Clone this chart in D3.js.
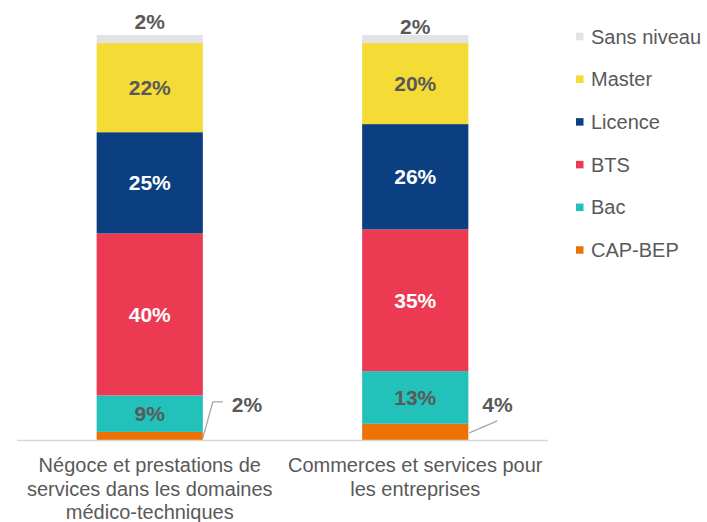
<!DOCTYPE html>
<html><head><meta charset="utf-8">
<script src="https://cdn.jsdelivr.net/npm/d3@7"></script>
<style>body{margin:0;background:#fff;}svg{display:block;font-family:"Liberation Sans",Arial,sans-serif;}</style>
</head><body><svg id="c" width="707" height="522"></svg>
<script>
const categories = [
  ["Négoce et prestations de", "services dans les domaines", "médico-techniques"],
  ["Commerces et services pour", "les entreprises"]
];
const seriesNames = ["CAP-BEP", "Bac", "BTS", "Licence", "Master", "Sans niveau"];
const seriesColors = ["#EE7203", "#22C1B9", "#EC3A52", "#0C3F81", "#F5DB35", "#E3E3E3"];
const labelColors = ["#595959", "#595959", "#FFFFFF", "#FFFFFF", "#595959", "#595959"];
const capBep = [2, 4];
const bac = [9, 13];
const bts = [40, 35];
const licence = [25, 26];
const master = [22, 20];
const sansNiveau = [2, 2];
const seriesValues = [capBep, bac, bts, licence, master, sansNiveau];

const svg = d3.select("#c");
const x = d3.scaleBand().domain(d3.range(categories.length)).range([17, 548]).paddingInner(0.6).paddingOuter(0.3);
const y = d3.scaleLinear().domain([0, 100]).range([440, 35]);

const rows = categories.map((c, i) => {
  const o = {i};
  seriesNames.forEach((s, k) => o[s] = seriesValues[k][i]);
  return o;
});
const stacked = d3.stack().keys(seriesNames)(rows);

// bars
stacked.forEach((layer, k) => {
  svg.append("g").selectAll("rect").data(layer).join("rect")
    .attr("x", d => x(d.data.i))
    .attr("width", x.bandwidth())
    .attr("y", d => y(d[1]))
    .attr("height", d => y(d[0]) - y(d[1]))
    .attr("fill", seriesColors[k]);
});

// axis line
svg.append("line").attr("x1", 17).attr("x2", 548).attr("y1", 440.5).attr("y2", 440.5)
  .attr("stroke", "#D9D9D9").attr("stroke-width", 1.5);

const labelSize = 21;
// inner labels (Bac, BTS, Licence, Master)
[1, 2, 3, 4].forEach(k => {
  stacked[k].forEach(d => {
    svg.append("text")
      .attr("x", x(d.data.i) + x.bandwidth() / 2)
      .attr("y", (y(d[0]) + y(d[1])) / 2)
      .attr("dy", "0.35em")
      .attr("text-anchor", "middle")
      .attr("font-size", labelSize).attr("font-weight", "bold")
      .attr("fill", labelColors[k])
      .text(d[1] - d[0] + "%");
  });
});
// sans niveau above
const topOffsets = [-13, -8];
stacked[5].forEach((d, i) => {
  svg.append("text")
    .attr("x", x(d.data.i) + x.bandwidth() / 2)
    .attr("y", y(d[1]) + topOffsets[i])
    .attr("dy", "0.35em")
    .attr("text-anchor", "middle")
    .attr("font-size", labelSize).attr("font-weight", "bold")
    .attr("fill", labelColors[5])
    .text(d[1] - d[0] + "%");
});
// CAP-BEP with leader lines
const leaders = [
  {pts: [[0, 2], [10, -34], [20, -34]], lx: 29, ly: -31},
  {pts: [[1, 1], [29, -11]], lx: 14, ly: -27}
];
stacked[0].forEach((d, i) => {
  const bx = x(d.data.i) + x.bandwidth();
  const by = (y(d[0]) + y(d[1])) / 2;
  const L = leaders[i];
  svg.append("polyline")
    .attr("points", L.pts.map(p => [bx + p[0], by + p[1]].join(",")).join(" "))
    .attr("fill", "none").attr("stroke", "#A6A6A6").attr("stroke-width", 1.3);
  svg.append("text")
    .attr("x", bx + L.lx).attr("y", by + L.ly)
    .attr("dy", "0.35em")
    .attr("font-size", labelSize).attr("font-weight", "bold")
    .attr("fill", labelColors[0])
    .text(d[1] - d[0] + "%");
});

// category labels
categories.forEach((lines, i) => {
  const t = svg.append("text").attr("text-anchor", "middle").attr("font-size", 20).attr("fill", "#595959");
  lines.forEach((ln, j) => {
    t.append("tspan").attr("x", x(i) + x.bandwidth() / 2).attr("y", 472 + j * 23.5).text(ln);
  });
});

// legend
const legendOrder = seriesNames.slice().reverse();
legendOrder.forEach((s, j) => {
  const k = seriesNames.indexOf(s);
  const cy = 36.5 + j * 42.7;
  svg.append("rect").attr("x", 576).attr("y", cy - 3.75).attr("width", 7.5).attr("height", 7.5).attr("fill", seriesColors[k]);
  svg.append("text").attr("x", 591).attr("y", cy).attr("dy", "0.35em")
    .attr("font-size", 20).attr("fill", "#595959").text(s);
});
</script></body></html>
